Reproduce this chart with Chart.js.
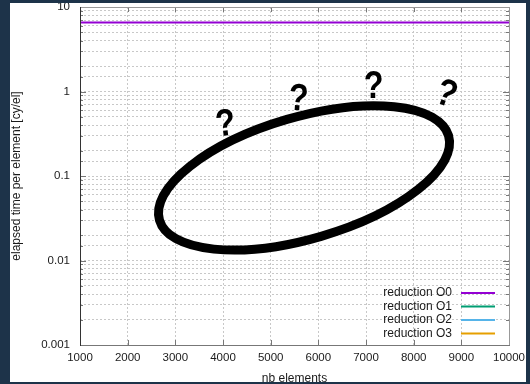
<!DOCTYPE html>
<html>
<head>
<meta charset="utf-8">
<script src="https://cdn.jsdelivr.net/npm/chart.js@4"></script>
<style>
  html, body { margin: 0; padding: 0; background: #1d3349; }
  #wrap { width: 530px; height: 384px; }
</style>
</head>
<body>
<div id="wrap"><canvas id="chart" width="530" height="384"></canvas></div>
<script>
// data
const nbElements = [1000, 2500, 10000];
const reductionO0 = [6.7, 6.55, 6.55];
const reductionO1 = [];
const reductionO2 = [];
const reductionO3 = [];
const seriesNames = ["reduction O0", "reduction O1", "reduction O2", "reduction O3"];
const seriesColors = ["#9400d3", "#009e73", "#56b4e9", "#e69f00"];
const xTicks = [1000, 2000, 3000, 4000, 5000, 6000, 7000, 8000, 9000, 10000];
const yTickLabels = ["0.001", "0.01", "0.1", "1", "10"];

// the scribbled-on ellipse and question marks (in data space)
const ellipseCenter = { x: 5700, y: 0.095 };
const marksX = [4050, 5580, 7160, 8680];
const marksY = [0.40, 0.80, 1.10, 0.91];
const marksAngle = [-6, 4, 0, 20];

const DARK = "#1d3349";
const FONT = "'Liberation Sans', Arial, sans-serif";

const toPoints = (ys) => ys.map((y, i) => ({ x: nbElements[i], y }));

const decorations = {
  id: "decorations",
  beforeDraw(chart) {
    const ctx = chart.ctx;
    ctx.save();
    ctx.fillStyle = "#fff";
    ctx.fillRect(0, 0, chart.width, chart.height);
    ctx.restore();
  },
  afterDraw(chart) {
    const ctx = chart.ctx;
    const { left, right, top, bottom } = chart.chartArea;
    const xs = chart.scales.x;
    const ys = chart.scales.y;
    ctx.save();

    // inward tick marks
    ctx.strokeStyle = "#777";
    ctx.lineWidth = 1;
    xs.ticks.forEach((t) => {
      const px = Math.round(xs.getPixelForValue(t.value)) + 0.5;
      ctx.beginPath();
      ctx.moveTo(px, bottom); ctx.lineTo(px, bottom - 5);
      ctx.moveTo(px, top); ctx.lineTo(px, top + 5);
      ctx.stroke();
    });
    ys.ticks.forEach((t) => {
      const py = Math.round(ys.getPixelForValue(t.value)) + 0.5;
      const len = t.label ? 6 : 3;
      ctx.beginPath();
      ctx.moveTo(left, py); ctx.lineTo(left + len, py);
      ctx.moveTo(right, py); ctx.lineTo(right - len, py);
      ctx.stroke();
    });

    // frame
    ctx.strokeStyle = "#999";
    ctx.strokeRect(left + 0.5, top + 0.5, right - left, bottom - top);
    ctx.strokeStyle = "#777";
    ctx.beginPath();
    ctx.moveTo(left, bottom + 0.5); ctx.lineTo(right + 1, bottom + 0.5);
    ctx.stroke();
    ctx.strokeStyle = "#333";
    ctx.beginPath();
    ctx.moveTo(left + 0.5, top); ctx.lineTo(left + 0.5, bottom + 1);
    ctx.stroke();

    // ellipse
    const cx = xs.getPixelForValue(ellipseCenter.x);
    const cy = ys.getPixelForValue(ellipseCenter.y);
    const w = right - left;
    ctx.strokeStyle = "#000";
    ctx.lineWidth = 9;
    ctx.beginPath();
    ctx.ellipse(cx, cy, w * 0.351, w * 0.142, -16.3 * Math.PI / 180, 0, Math.PI * 2);
    ctx.stroke();

    // question marks
    ctx.fillStyle = "#000";
    ctx.font = "bold 38px 'Liberation Sans', sans-serif";
    ctx.textAlign = "center";
    ctx.textBaseline = "middle";
    marksX.forEach((mx, i) => {
      ctx.save();
      ctx.translate(xs.getPixelForValue(mx), ys.getPixelForValue(marksY[i]));
      ctx.rotate(marksAngle[i] * Math.PI / 180);
      ctx.scale(0.85, 1);
      ctx.fillText("?", 0, 0);
      ctx.restore();
    });

    // legend, bottom right inside the plot
    ctx.font = "12px " + FONT;
    ctx.textAlign = "right";
    ctx.textBaseline = "middle";
    chart.data.datasets.forEach((ds, i) => {
      const y = bottom - 52 + i * 13.5;
      ctx.fillStyle = "#1a1a1a";
      ctx.fillText(ds.label, right - 57, y);
      ctx.strokeStyle = ds.borderColor;
      ctx.lineWidth = 2;
      ctx.beginPath();
      ctx.moveTo(right - 48, y); ctx.lineTo(right - 14, y);
      ctx.stroke();
    });

    // dark surround
    ctx.fillStyle = DARK;
    ctx.beginPath();
    ctx.rect(0, 0, chart.width, chart.height);
    ctx.rect(10, 3, 516, 379);
    ctx.fill("evenodd");
    ctx.restore();
  }
};

new Chart(document.getElementById("chart"), {
  type: "line",
  data: {
    datasets: [reductionO0, reductionO1, reductionO2, reductionO3].map((vals, i) => ({
      label: seriesNames[i],
      data: toPoints(vals),
      borderColor: seriesColors[i],
      backgroundColor: seriesColors[i],
      borderWidth: 2,
      pointRadius: 0,
      stepped: "after",
      fill: false,
    })),
  },
  options: {
    responsive: false,
    animation: false,
    layout: { padding: { top: 7, right: 21, left: 0, bottom: 0 } },
    plugins: { legend: { display: false }, tooltip: { enabled: false } },
    scales: {
      x: {
        type: "linear",
        min: 1000,
        max: 10000,
        afterFit: (s) => { s.height = 39; s.paddingLeft = 0; s.paddingRight = 0; },
        afterBuildTicks: (s) => { s.ticks = xTicks.map((v) => ({ value: v })); },
        ticks: {
          autoSkip: false,
          maxRotation: 0,
          padding: 6,
          color: "#1a1a1a",
          font: { family: FONT, size: 11.5 },
          callback: (v) => String(v),
        },
        grid: { color: "#c8c8c8", lineWidth: 1, drawTicks: false },
        border: { display: false, dash: [2, 2] },
        title: {
          display: true,
          text: "nb elements",
          color: "#1a1a1a",
          font: { family: FONT, size: 12 },
          padding: { top: 0, bottom: -2.2 },
        },
      },
      y: {
        type: "logarithmic",
        min: 0.001,
        max: 10,
        afterFit: (s) => { s.width = 80; s.paddingTop = 0; s.paddingBottom = 0; },
        ticks: {
          autoSkip: false,
          padding: 10,
          color: "#1a1a1a",
          font: { family: FONT, size: 11.5 },
          callback: (v) => {
            const e = Math.log10(v);
            if (Math.abs(e - Math.round(e)) > 1e-6) return "";
            return yTickLabels[Math.round(e) + 3];
          },
        },
        grid: { color: "#c8c8c8", lineWidth: 1, drawTicks: false },
        border: { display: false, dash: [2, 2] },
        title: {
          display: true,
          text: "elapsed time per element [cy/el]",
          color: "#1a1a1a",
          font: { family: FONT, size: 12 },
          padding: { top: 9, bottom: 0 },
        },
      },
    },
  },
  plugins: [decorations],
});
</script>
</body>
</html>
